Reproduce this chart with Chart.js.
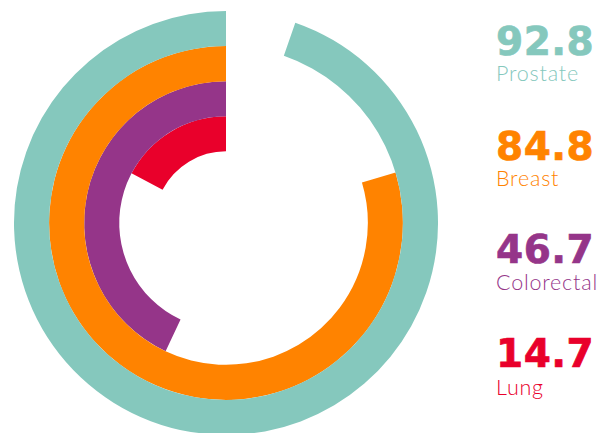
<!DOCTYPE html>
<html>
<head>
<meta charset="utf-8">
<script src="https://cdn.jsdelivr.net/npm/chart.js@4.4.1/dist/chart.umd.min.js"></script>
<style>
  html, body { margin: 0; padding: 0; background: #fff; overflow: hidden; }
  body { width: 612px; height: 433px; position: relative; }
  #ringChart { position: absolute; left: 14px; top: 11px; }
  .num {
    position: absolute; left: 496px;
    font-family: "DejaVu Sans", sans-serif; font-weight: bold;
    font-size: 39px; line-height: 39px; letter-spacing: 0.5px;
    -webkit-text-stroke: 0.7px currentColor;
  }
  .lbl {
    position: absolute; left: 496px;
    font-family: Lato, sans-serif; font-weight: 300;
    font-size: 21.5px; line-height: 21px; letter-spacing: 0.8px;
  }
</style>
</head>
<body>
<canvas id="ringChart" width="424" height="424"></canvas>
<div id="labels"></div>
<script>
// Cancer types, outer ring first
const categories = ['Prostate', 'Breast', 'Colorectal', 'Lung'];
// Values shown in the labels
const values = [92.8, 84.8, 46.7, 14.7];
// How much of the full circle each ring covers in the picture (percent)
const arcShare = [94.7, 79.6, 43.0, 17.3];
const colors = ['#85C8BD', '#FF8300', '#953589', '#E9002B'];

document.addEventListener("DOMContentLoaded", function () {

    const ctx = document.getElementById('ringChart').getContext('2d');

    const datasets = categories.map((name, i) => ({
        label: name,
        // empty part first so the coloured part ends at 12 o'clock
        data: [100 - arcShare[i], arcShare[i]],
        backgroundColor: ['rgba(0,0,0,0)', colors[i]],
        borderWidth: 0,
        hoverOffset: 0
    }));

    new Chart(ctx, {
        type: 'doughnut',
        data: {
            labels: ['rest', 'value'],
            datasets: datasets
        },
        options: {
            responsive: false,
            animation: false,
            cutout: '33.8%',
            rotation: 0,
            circumference: 360,
            layout: { padding: 0 },
            events: [],
            plugins: {
                legend: { display: false },
                tooltip: { enabled: false }
            }
        }
    });

    // Value + name on the right
    const numTops = [22, 127, 230, 334];
    const lblTops = [63, 168, 272, 377];
    const box = document.getElementById('labels');
    categories.forEach((name, i) => {
        const n = document.createElement('div');
        n.className = 'num';
        n.style.top = numTops[i] + 'px';
        n.style.color = colors[i];
        n.textContent = values[i].toFixed(1);
        box.appendChild(n);

        const l = document.createElement('div');
        l.className = 'lbl';
        l.style.top = lblTops[i] + 'px';
        l.style.color = colors[i];
        l.textContent = name;
        box.appendChild(l);
    });
});
</script>
</body>
</html>
